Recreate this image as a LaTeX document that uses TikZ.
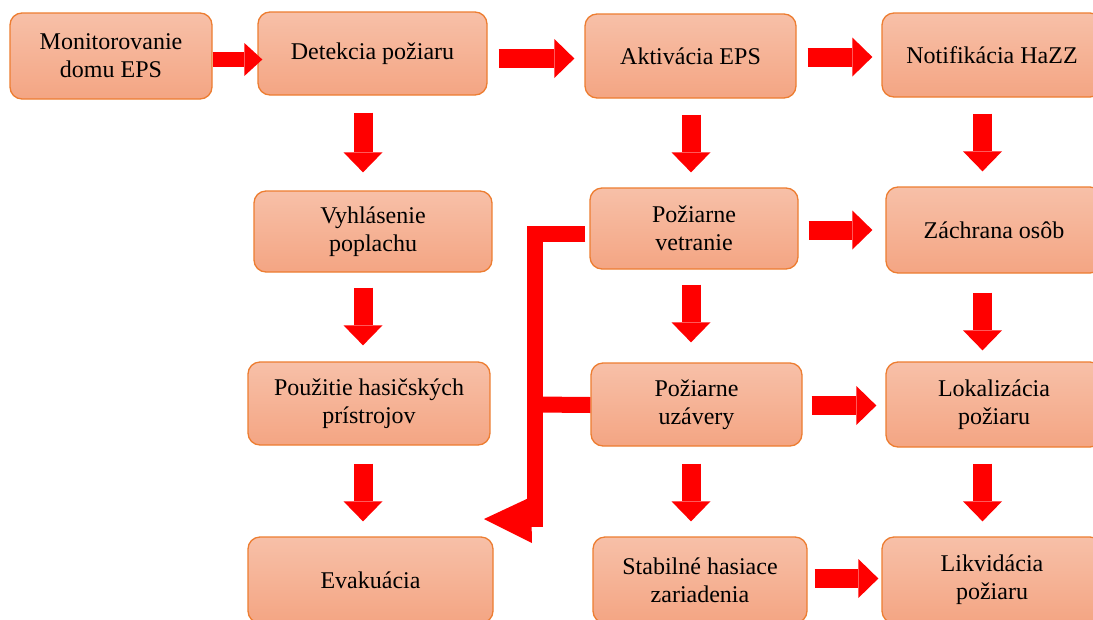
\documentclass[tikz,border=0pt]{standalone}
\usepackage{fontspec}
\setmainfont{Liberation Serif}
\usetikzlibrary{arrows.meta,calc}

\definecolor{boxtop}{RGB}{247,192,168}
\definecolor{boxbot}{RGB}{244,165,131}
\definecolor{boxline}{RGB}{237,125,49}
\definecolor{flowred}{RGB}{255,0,0}

\tikzset{
  stepbox/.style={rounded corners=12pt, top color=boxtop, bottom color=boxbot,
    draw=boxline, line width=1.3pt, inner sep=0pt, align=center,
    font=\fontsize{24}{28}\selectfont},
  blockarrow/.style={draw=flowred, line width=19pt,
    -{Triangle[width=39pt,length=20pt,line width=0pt]}},
  thinblockarrow/.style={draw=flowred, line width=15pt,
    -{Triangle[width=33pt,length=18pt,line width=0pt]}},
  elbowline/.style={draw=flowred, line width=16pt, line join=miter}
}

\begin{document}
\begin{tikzpicture}[x=1pt,y=-1pt]
\useasboundingbox (0,0) rectangle (1093,619);
\clip (0,0) rectangle (1093,619);
\fill[white] (0,0) rectangle (1093,619);

% process steps
\node[stepbox, minimum width=202pt, minimum height=86pt] (mon) at (111,56) {Monitorovanie\\domu EPS};
\node[stepbox, minimum width=229pt, minimum height=83pt] (det) at (372.5,53.5) {Detekcia požiaru};
\node[stepbox, minimum width=211pt, minimum height=84pt] (akt) at (690.5,56) {Aktivácia EPS};
\node[stepbox, minimum width=220pt, minimum height=84pt] (ntf) at (992,55) {Notifikácia HaZZ};

\node[stepbox, minimum width=238pt, minimum height=81pt] (vyh) at (373,231.5) {Vyhlásenie\\poplachu};
\node[stepbox, minimum width=208pt, minimum height=81pt] (vet) at (694,228.5) {Požiarne\\vetranie};
\node[stepbox, minimum width=216pt, minimum height=86pt] (zac) at (994,230) {Záchrana osôb};

\node[stepbox, minimum width=242pt, minimum height=83pt] (pou) at (369,403.5) {Použitie hasičských\\prístrojov};
\node[stepbox, minimum width=211pt, minimum height=83pt] (uza) at (696.5,404.5) {Požiarne\\uzávery};
\node[stepbox, minimum width=216pt, minimum height=85pt] (lok) at (994,404.5) {Lokalizácia\\požiaru};

\node[stepbox, minimum width=245pt, minimum height=86pt] (eva) at (370.5,580) {Evakuácia};
\node[stepbox, minimum width=214pt, minimum height=86pt] (sta) at (700,580) {Stabilné hasiace\\zariadenia};
\node[stepbox, minimum width=220pt, minimum height=86pt] (lik) at (992,580) {Likvidácia\\požiaru};

% arrow axes: columns for the downward arrows, rows for the sideways ones
\coordinate (colA) at (363,0);
\coordinate (colB) at (691,0);
\coordinate (colC) at (982.5,0);
\coordinate (rowA) at (0,59.5);
\coordinate (rowB) at (0,58.5);
\coordinate (rowC) at (0,57);
\coordinate (rowD) at (0,230);
\coordinate (rowE) at (0,405.5);
\coordinate (rowF) at (0,578.5);

% sideways flow arrows
\draw[thinblockarrow] (mon.east |- rowA) -- ($(det.west |- rowA)+(5,0)$);
\draw[blockarrow] ($(det.east |- rowB)+(11,0)$) -- ($(akt.west |- rowB)+(-10,0)$);
\draw[blockarrow] ($(akt.east |- rowC)+(11,0)$) -- ($(ntf.west |- rowC)+(-9,0)$);
\draw[blockarrow] ($(vet.east |- rowD)+(10,0)$) -- ($(zac.west |- rowD)+(-13,0)$);
\draw[blockarrow] ($(uza.east |- rowE)+(9,0)$) -- ($(lok.west |- rowE)+(-9,0)$);
\draw[blockarrow] ($(sta.east |- rowF)+(7,0)$) -- ($(lik.west |- rowF)+(-3,0)$);

% downward flow arrows
\draw[blockarrow] ($(det.south -| colA)+(0,17)$) -- ($(vyh.north -| colA)+(0,-18)$);
\draw[blockarrow] ($(vyh.south -| colA)+(0,15)$) -- ($(pou.north -| colA)+(0,-16)$);
\draw[blockarrow] ($(pou.south -| colA)+(0,18)$) -- ($(eva.north -| colA)+(0,-15)$);
\draw[blockarrow] ($(akt.south -| colB)+(0,16)$) -- ($(vet.north -| colB)+(0,-15)$);
\draw[blockarrow] ($(vet.south -| colB)+(0,15)$) -- ($(uza.north -| colB)+(0,-20)$);
\draw[blockarrow] ($(uza.south -| colB)+(0,17)$) -- ($(sta.north -| colB)+(0,-15)$);
\draw[blockarrow] ($(ntf.south -| colC)+(0,16)$) -- ($(zac.north -| colC)+(0,-15)$);
\draw[blockarrow] ($(zac.south -| colC)+(0,19)$) -- ($(lok.north -| colC)+(0,-11)$);
\draw[blockarrow] ($(lok.south -| colC)+(0,16)$) -- ($(lik.north -| colC)+(0,-15)$);

% elbow connector from the ventilation and closure steps to evacuation
\coordinate (bend) at (535,527);
\draw[elbowline] ([xshift=-4pt,yshift=-5.5pt]vet.west) -| (bend);
\draw[elbowline] ([yshift=-0.5pt]uza.west) -- (uza.west -| bend);
\fill[flowred] ($(bend)+(-4,-30)$) -- ($(bend)+(-51,-8)$) -- ($(bend)+(-3,16)$) -- cycle;
\end{tikzpicture}
\end{document}
